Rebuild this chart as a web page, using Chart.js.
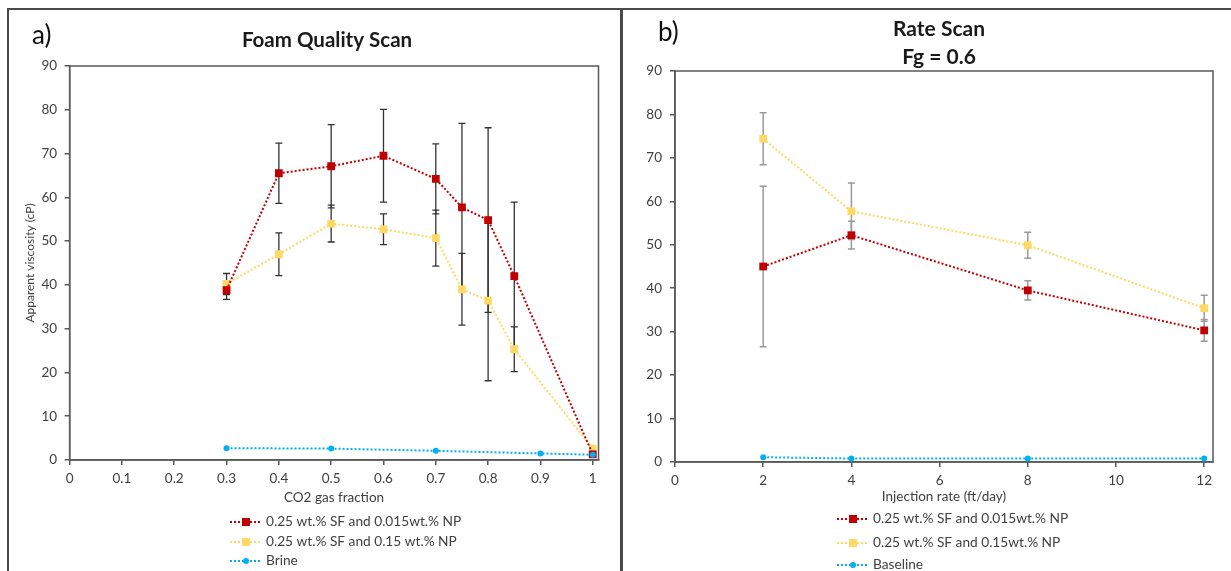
<!DOCTYPE html>
<html>
<head>
<meta charset="utf-8">
<title>Foam quality and rate scans</title>
<script src="https://cdn.jsdelivr.net/npm/chart.js@4.4.1/dist/chart.umd.min.js"></script>
<style>
    html, body { margin: 0; padding: 0; background: #fff; }
    body { width: 1231px; height: 571px; position: relative; overflow: hidden; font-family: Lato, "Open Sans", sans-serif; }
    #frame { position: absolute; left: 7px; top: 8px; width: 1240px; height: 600px; border: 2px solid #4a4a4a; box-sizing: border-box; }
    #divider { position: absolute; left: 620px; top: 8px; width: 3px; height: 600px; background: #4a4a4a; }
    .panel { position: absolute; }
    #panelA { left: 9px; top: 10px; width: 611px; height: 561px; }
    #panelB { left: 623px; top: 10px; width: 608px; height: 561px; }
</style>
</head>
<body>
<div id="frame"></div>
<div id="divider"></div>
<div class="panel" id="panelA"><canvas id="foamChart"></canvas></div>
<div class="panel" id="panelB"><canvas id="rateChart"></canvas></div>

<script>
(function () {
    "use strict";

    // a) foam quality scan
    const foamX = [0.3, 0.4, 0.5, 0.6, 0.7, 0.75, 0.8, 0.85, 1.0];
    const foamLowNP = [38.8, 65.5, 67.1, 69.5, 64.2, 57.7, 54.8, 42.0, 1.3];
    const foamLowNPErr = [2.1, 6.9, 9.5, 10.6, 8.0, 19.2, 21.1, 16.9, 0];
    const foamHighNP = [40.2, 47.0, 54.0, 52.7, 50.7, 39.0, 36.4, 25.3, 2.6];
    const foamHighNPErr = [2.4, 4.9, 4.2, 3.5, 6.4, 8.2, 18.3, 5.1, 0];
    const brineX = [0.3, 0.5, 0.7, 0.9, 1.0];
    const brineVisc = [2.7, 2.6, 2.1, 1.5, 1.2];

    // b) rate scan at Fg = 0.6
    const rateX = [2, 4, 8, 12];
    const rateLowNP = [45.0, 52.2, 39.5, 30.3];
    const rateLowNPErr = [18.5, 3.2, 2.2, 2.5];
    const rateHighNP = [74.4, 57.7, 49.9, 35.4];
    const rateHighNPErr = [6.0, 6.5, 3.0, 3.0];
    const baselineVisc = [1.1, 0.8, 0.8, 0.8];

    const foamTicksX = [0, 0.1, 0.2, 0.3, 0.4, 0.5, 0.6, 0.7, 0.8, 0.9, 1];
    const rateTicksX = [0, 2, 4, 6, 8, 10, 12];

    const colors = {
        red: '#C00000',
        yellow: '#FFD966',
        blue: '#00B0F0',
        text: '#404040',
        axis: '#595959'
    };
    const FONT = 'Lato, "Open Sans", sans-serif';

    function points(xs, ys) {
        return xs.map((x, i) => ({ x: x, y: ys[i] }));
    }

    function series(label, xs, ys, color, style, extra) {
        return Object.assign({
            label: label,
            data: points(xs, ys),
            borderColor: color,
            backgroundColor: color,
            borderWidth: 2,
            borderDash: [2, 2],
            pointStyle: style,
            pointRadius: style === 'rect' ? 5.5 : 3,
            pointBorderWidth: 0,
            pointBackgroundColor: color,
            tension: 0
        }, extra || {});
    }

    // vertical error bars, drawn under the markers
    const errorBarPlugin = {
        id: 'errorBars',
        beforeDatasetsDraw(chart, args, opts) {
            const { ctx, scales: { x, y } } = chart;
            ctx.save();
            ctx.strokeStyle = opts.color;
            ctx.lineWidth = opts.width;
            chart.data.datasets.forEach((ds) => {
                if (!ds.errorBars) return;
                ds.data.forEach((p, j) => {
                    const e = ds.errorBars[j];
                    if (!e) return;
                    const px = x.getPixelForValue(p.x);
                    const top = y.getPixelForValue(p.y + e);
                    const bot = y.getPixelForValue(p.y - e);
                    ctx.beginPath();
                    ctx.moveTo(px, top); ctx.lineTo(px, bot);
                    ctx.moveTo(px - opts.cap, top); ctx.lineTo(px + opts.cap, top);
                    ctx.moveTo(px - opts.cap, bot); ctx.lineTo(px + opts.cap, bot);
                    ctx.stroke();
                });
            });
            ctx.restore();
        }
    };

    // box round the plot area
    const plotBoxPlugin = {
        id: 'plotBox',
        beforeDatasetsDraw(chart, args, opts) {
            const { ctx, chartArea: a } = chart;
            ctx.save();
            ctx.strokeStyle = opts.color;
            ctx.lineWidth = opts.width;
            ctx.strokeRect(a.left, a.top, a.right - a.left, a.bottom - a.top);
            ctx.restore();
        }
    };

    // panel letter and titles
    const panelTextPlugin = {
        id: 'panelText',
        afterDraw(chart, args, opts) {
            const ctx = chart.ctx;
            ctx.save();
            opts.items.forEach((it) => {
                ctx.font = it.font;
                ctx.fillStyle = it.color;
                ctx.textAlign = it.align;
                ctx.textBaseline = 'middle';
                ctx.fillText(it.text, it.x, it.y);
            });
            ctx.restore();
        }
    };

    // Excel-like legend: one row per series, dotted line with a marker in it
    const lineLegendPlugin = {
        id: 'lineLegend',
        afterDraw(chart, args, opts) {
            const ctx = chart.ctx;
            ctx.save();
            chart.data.datasets.forEach((ds, i) => {
                const y = opts.rows[i];
                ctx.strokeStyle = ds.borderColor;
                ctx.lineWidth = 2;
                ctx.setLineDash([2, 2]);
                ctx.beginPath();
                ctx.moveTo(opts.x0, y);
                ctx.lineTo(opts.x1, y);
                ctx.stroke();
                ctx.setLineDash([]);
                ctx.fillStyle = ds.pointBackgroundColor;
                const mx = (opts.x0 + opts.x1) / 2;
                if (ds.pointStyle === 'rect') {
                    ctx.fillRect(mx - 4, y - 4, 8, 8);
                } else {
                    ctx.beginPath();
                    ctx.arc(mx, y, 3, 0, Math.PI * 2);
                    ctx.fill();
                }
                ctx.font = opts.font;
                ctx.fillStyle = colors.text;
                ctx.textAlign = 'left';
                ctx.textBaseline = 'middle';
                ctx.fillText(ds.label, opts.textX, y);
            });
            ctx.restore();
        }
    };

    function makeOptions(cfg) {
        return {
            responsive: true,
            maintainAspectRatio: false,
            animation: false,
            layout: { padding: { top: cfg.top, right: cfg.right, left: 0, bottom: 0 } },
            plugins: {
                legend: { display: false },
                tooltip: { enabled: false },
                errorBars: { color: cfg.errColor, width: cfg.errWidth, cap: 3.5 },
                plotBox: { color: colors.axis, width: 1.5 },
                panelText: { items: cfg.texts },
                lineLegend: cfg.legend
            },
            scales: {
                x: {
                    type: 'linear',
                    min: 0,
                    max: cfg.xMax,
                    afterFit: (s) => { s.height = cfg.xHeight; },
                    afterBuildTicks: (s) => { s.ticks = cfg.xTicks.map((v) => ({ value: v })); },
                    grid: { display: true, drawOnChartArea: false, drawTicks: true, tickLength: 5, color: colors.axis, lineWidth: 1.5 },
                    border: { display: true, color: colors.axis, width: 1.5 },
                    ticks: {
                        padding: 6,
                        color: colors.text,
                        font: { family: FONT, size: 13.5 },
                        maxRotation: 0,
                        callback: (v) => String(+Number(v).toFixed(2))
                    },
                    title: {
                        display: true,
                        text: cfg.xTitle,
                        color: colors.text,
                        font: { family: FONT, size: 13.5 },
                        padding: { top: 0, bottom: cfg.xTitlePad }
                    }
                },
                y: {
                    min: 0,
                    max: 90,
                    afterFit: (s) => { s.width = cfg.yWidth; },
                    grid: { display: true, drawOnChartArea: false, drawTicks: true, tickLength: 5, color: colors.axis, lineWidth: 1.5 },
                    border: { display: true, color: colors.axis, width: 1.5 },
                    ticks: {
                        stepSize: 10,
                        padding: cfg.yTickPad,
                        color: colors.text,
                        font: { family: FONT, size: 13.5 }
                    },
                    title: {
                        display: !!cfg.yTitle,
                        text: cfg.yTitle || '',
                        color: colors.text,
                        font: { family: FONT, size: 12 },
                        padding: { top: 14, bottom: 0 }
                    }
                }
            }
        };
    }

    const plugins = [errorBarPlugin, plotBoxPlugin, panelTextPlugin, lineLegendPlugin];

    new Chart(document.getElementById('foamChart'), {
        type: 'line',
        data: {
            datasets: [
                series('0.25 wt.% SF and 0.015wt.% NP', foamX, foamLowNP, colors.red, 'rect', { errorBars: foamLowNPErr, order: 1 }),
                series('0.25 wt.% SF and 0.15 wt.% NP', foamX, foamHighNP, colors.yellow, 'rect', { errorBars: foamHighNPErr, order: 2 }),
                series('Brine', brineX, brineVisc, colors.blue, 'circle', { order: 0 })
            ]
        },
        options: makeOptions({
            top: 56, right: 21.5, xMax: 1.011, xTicks: foamTicksX,
            xHeight: 111, xTitle: 'CO2 gas fraction', xTitlePad: 65,
            yWidth: 60.6, yTickPad: 7.5, yTitle: 'Apparent viscosity (cP)',
            errColor: '#333333', errWidth: 1.3,
            texts: [
                { text: 'a)', x: 23, y: 26, font: '26px ' + FONT, color: '#111', align: 'left' },
                { text: 'Foam Quality Scan', x: 318, y: 30, font: 'bold 20.5px ' + FONT, color: '#1a1a1a', align: 'center' }
            ],
            legend: { x0: 221, x1: 253, textX: 257, rows: [512, 532, 551], font: '13.7px ' + FONT }
        }),
        plugins: plugins
    });

    new Chart(document.getElementById('rateChart'), {
        type: 'line',
        data: {
            datasets: [
                series('0.25 wt.% SF and 0.015wt.% NP', rateX, rateLowNP, colors.red, 'rect', { errorBars: rateLowNPErr, order: 1 }),
                series('0.25 wt.% SF and 0.15wt.% NP', rateX, rateHighNP, colors.yellow, 'rect', { errorBars: rateHighNPErr, order: 2 }),
                series('Baseline', rateX, baselineVisc, colors.blue, 'circle', { order: 0 })
            ]
        },
        options: makeOptions({
            top: 61, right: 18, xMax: 12.2, xTicks: rateTicksX,
            xHeight: 109, xTitle: 'Injection rate (ft/day)', xTitlePad: 66,
            yWidth: 52, yTickPad: 8, yTitle: null,
            errColor: '#9a9a9a', errWidth: 1.5,
            texts: [
                { text: 'b)', x: 35, y: 23, font: '26px ' + FONT, color: '#111', align: 'left' },
                { text: 'Rate Scan', x: 316, y: 19, font: 'bold 21px ' + FONT, color: '#1a1a1a', align: 'center' },
                { text: 'Fg = 0.6', x: 316, y: 47, font: 'bold 21px ' + FONT, color: '#1a1a1a', align: 'center' }
            ],
            legend: { x0: 214, x1: 246, textX: 250, rows: [509, 533, 555], font: '13.7px ' + FONT }
        }),
        plugins: plugins
    });
})();
</script>
</body>
</html>
